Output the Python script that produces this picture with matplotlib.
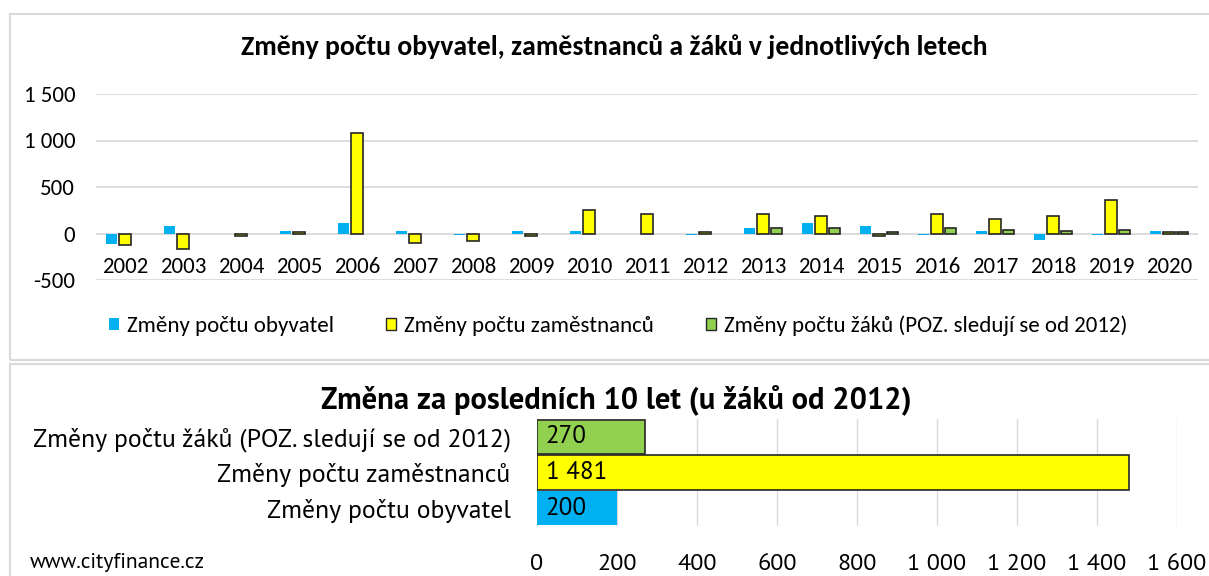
import matplotlib
matplotlib.use("Agg")
from matplotlib import pyplot as plt
from matplotlib import font_manager
from matplotlib.patches import Rectangle, Patch
import numpy as np

# data
years = [str(y) for y in range(2002, 2021)]
obyvatel = [-118, 78, 0, 25, 110, 25, -15, 25, 25, 0, -15, 60, 110, 78, -18, 25, -68, -15, 25]
zamestnanci = [-128, -164, -32, 15, 1085, -100, -86, -32, 257, 207, 20, 207, 193, -32, 207, 157, 189, 357, 20]
# pupils are tracked only from 2012 -> no bars before 2013
zaci = [np.nan] * 11 + [57, 57, 20, 57, 39, 25, 39, 20]

series_names = ["Změny počtu obyvatel", "Změny počtu zaměstnanců",
                "Změny počtu žáků (POZ. sledují se od 2012)"]
total_labels = ["Změny počtu obyvatel", "Změny počtu zaměstnanců",
                "Změny počtu žáků (POZ. sledují se od 2012)"]
total_values = [200, 1481, 270]

BLUE = "#00B0F0"
YELLOW = "#FFFF00"
GREEN = "#92D050"
GRID = "#D9D9D9"
EDGE = "#262626"


def pick(*names):
    have = {f.name for f in font_manager.fontManager.ttflist}
    for n in names:
        if n in have:
            return n
    return "DejaVu Sans"


font_top = pick("Carlito", "Lato", "Open Sans")
font_bot = pick("PT Sans", "Lato")
plt.rcParams["font.family"] = [font_top, "DejaVu Sans"]
bfam = [font_bot, "DejaVu Sans"]


def fmt(v):
    return f"{v:,.0f}".replace(",", " ")


W, H = 1209, 576
fig = plt.figure(figsize=(W / 100, H / 100), dpi=100)


def box(x0, y0, x1, y1):
    return [x0 / W, 1 - y1 / H, (x1 - x0) / W, (y1 - y0) / H]


# panel frames
for y0, y1 in [(14, 360), (364, 600)]:
    fig.add_artist(Rectangle((10 / W, 1 - y1 / H), 1.1, (y1 - y0) / H,
                             transform=fig.transFigure, fill=False,
                             edgecolor=GRID, lw=1.5))

# ---- top chart ----
ax = fig.add_axes(box(96, 94, 1198, 280))
x = np.arange(len(years))
w = 0.19
ax.bar(x - 0.24, obyvatel, w, color=BLUE, zorder=3)
ax.bar(x, zamestnanci, w, color=YELLOW, edgecolor=EDGE, lw=1.2, zorder=3)
ax.bar(x + 0.24, zaci, w, color=GREEN, edgecolor=EDGE, lw=1.2, zorder=3)
ax.set_xlim(-0.5, len(years) - 0.5)
ax.set_ylim(-500, 1500)
yt = [-500, 0, 500, 1000, 1500]
ax.set_yticks(yt)
ax.set_yticklabels([fmt(v) for v in yt], fontsize=16.5)
ax.grid(axis="y", color=GRID, lw=1.3, zorder=0)
ax.spines["bottom"].set_position(("data", 0))
for s in ax.spines.values():
    s.set_visible(False)
ax.set_xticks(x)
ax.set_xticklabels(years, fontsize=16.5)
ax.tick_params(axis="x", length=0, pad=17)
ax.tick_params(axis="y", length=0, pad=15)
ax.text(0.47, 1 + 47 / 186, "Změny počtu obyvatel, zaměstnanců a žáků v jednotlivých letech",
        transform=ax.transAxes, ha="center", va="center",
        fontsize=20, fontweight="bold")
handles = [Patch(facecolor=BLUE),
           Patch(facecolor=YELLOW, edgecolor=EDGE),
           Patch(facecolor=GREEN, edgecolor=EDGE)]
ax.legend(handles, series_names, ncol=3, frameon=False, fontsize=16.5,
          loc="center", bbox_to_anchor=(0.474, -0.247),
          handlelength=0.45, handleheight=0.45, handletextpad=0.35,
          columnspacing=2.25)

# ---- bottom chart ----
bx = fig.add_axes(box(537, 419, 1177, 526))
colors = [BLUE, YELLOW, GREEN]
edges = ["none", EDGE, EDGE]
for i, (v, c, e) in enumerate(zip(total_values, colors, edges)):
    bx.barh(i, v, 0.97, color=c, edgecolor=e, lw=1.2, zorder=3)
    bx.text(22, i, fmt(v), va="center", ha="left", fontsize=18,
            family=bfam, zorder=4)
bx.set_ylim(-0.5, 2.5)
bx.set_xlim(0, 1600)
xt = list(range(0, 1601, 200))
bx.set_xticks(xt)
bx.set_xticklabels([fmt(v) for v in xt], fontsize=17.5, family=bfam)
bx.set_yticks(range(3))
bx.set_yticklabels(total_labels, fontsize=18.5, family=bfam)
bx.grid(axis="x", color=GRID, lw=1.0, zorder=0)
for s in bx.spines.values():
    s.set_visible(False)
bx.tick_params(axis="x", length=0, pad=20)
bx.tick_params(axis="y", length=0, pad=19)

fig.text(616 / W, 1 - 401 / H, "Změna za posledních 10 let (u žáků od 2012)",
         fontsize=22, fontweight="bold", family=bfam, ha="center", va="center")
fig.text(30 / W, 1 - 563 / H, "www.cityfinance.cz", fontsize=15.5,
         va="center", ha="left", family=bfam)

fig.savefig("out.png", dpi=100)
